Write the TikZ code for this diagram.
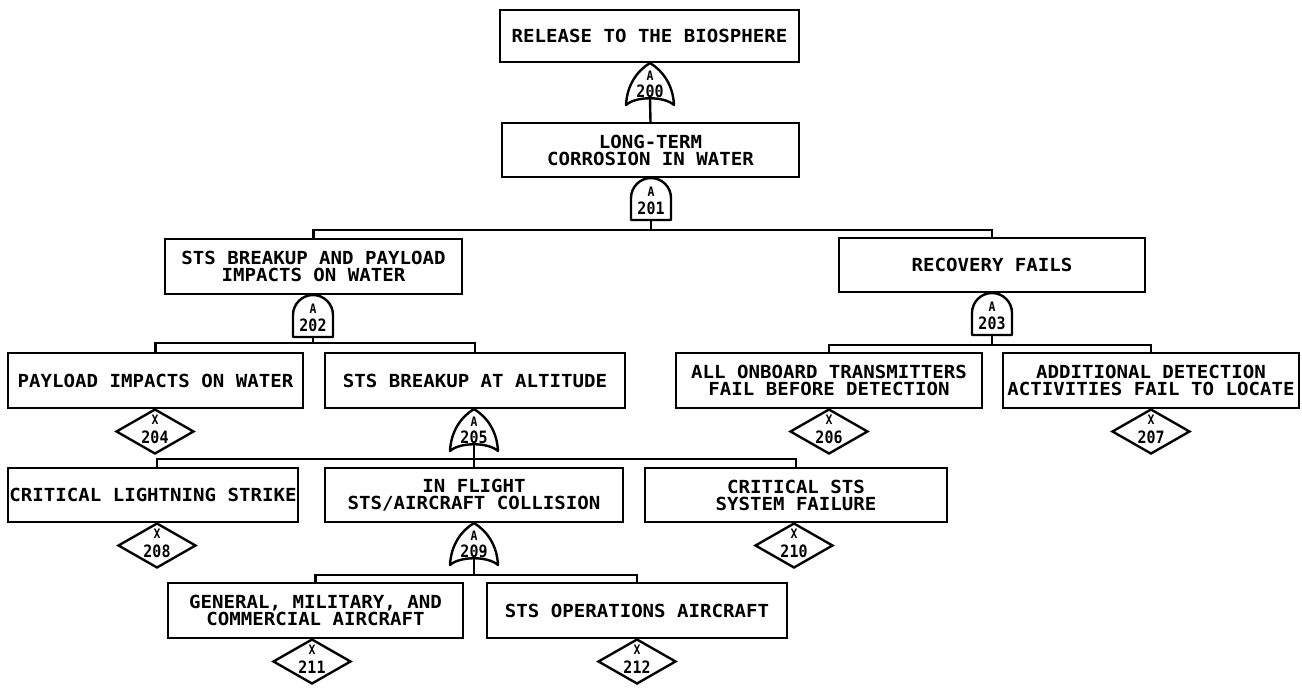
\documentclass[tikz,border=0pt]{standalone}
\usepackage{fontspec}
\setmonofont{DejaVu Sans Mono}[FakeStretch=1.06]
\newfontfamily\gatefont{DejaVu Sans Mono}[FakeStretch=0.88]
\usetikzlibrary{shapes.geometric,calc}
\tikzset{
  box/.style={draw, line width=2.4pt, inner sep=0pt, align=center,
    font=\ttfamily\bfseries\fontsize{18}{17}\selectfont},
  gatebox/.style={shape=rectangle, inner sep=0pt, outer sep=0pt},
  gateline/.style={draw, line width=2.4pt, line join=round},
  conn/.style={draw, line width=2.4pt},
  gatetxt/.style={inner sep=0pt, font=\gatefont\bfseries\fontsize{13}{13}\selectfont},
  numtxt/.style={inner sep=0pt, font=\gatefont\bfseries\fontsize{17}{17}\selectfont},
  xdiamond/.style={diamond, draw, line width=2.4pt, inner sep=0pt, minimum width=78, minimum height=45}
}
\newcommand\orgate[4]{%
  \node[gatebox, minimum width=48, minimum height=42] (#1) at (#2,#3+21) {};
  \draw[gateline] (#1.north) .. controls +(13,8) and +(-1,-20) .. (#1.south east)
     .. controls +(-10,-9) and +(10,-9) .. (#1.south west)
     .. controls +(1,-20) and +(-13,8) .. (#1.north) -- cycle;
  \node[gatetxt] (#1-a) at (#2,#3+13) {A};
  \node[numtxt] (#1-n) at (#2,#3+28) {#4};
  \coordinate (#1-stem) at ($(#1.south)+(0,-6)$);
}
\newcommand\andgate[4]{%
  \node[gatebox, minimum width=40, minimum height=42] (#1) at (#2,#3+21) {};
  \draw[gateline] (#1.south west) -- ++(0,-22) .. controls +(0,-11) and +(-11,0) .. (#1.north)
     .. controls +(11,0) and +(0,-11) .. ($(#1.south east)+(0,-22)$) -- (#1.south east) -- cycle;
  \node[gatetxt] (#1-a) at (#2,#3+14) {A};
  \node[numtxt] (#1-n) at (#2,#3+30) {#4};
  \coordinate (#1-stem) at (#1.south);
}
\newcommand\xdia[4]{%
  \node[xdiamond] (#1) at (#2,#3+22.5) {};
  \node[gatetxt] (#1-x) at (#2,#3+11) {X};
  \node[numtxt] (#1-n) at (#2,#3+28) {#4};
}
\begin{document}
\begin{tikzpicture}[x=1pt, y=-1pt]
\fill[white] (0,0) rectangle (1302,690);
\useasboundingbox (0,0) rectangle (1302,690);

% boxes
\node[box, minimum width=299, minimum height=52] (b1) at (649.5,36) {RELEASE TO THE BIOSPHERE};
\node[box, minimum width=297, minimum height=54] (b2) at (650.5,150) {LONG-TERM\\CORROSION IN WATER};
\node[box, minimum width=297, minimum height=55] (b3) at (313.5,266.5) {STS BREAKUP AND PAYLOAD\\IMPACTS ON WATER};
\node[box, minimum width=306, minimum height=54] (b4) at (992,265) {RECOVERY FAILS};
\node[box, minimum width=295, minimum height=55] (b5) at (155.5,380.5) {PAYLOAD IMPACTS ON WATER};
\node[box, minimum width=300, minimum height=55] (b6) at (475,380.5) {STS BREAKUP AT ALTITUDE};
\node[box, minimum width=306, minimum height=55] (b7) at (829,380.5) {ALL ONBOARD TRANSMITTERS\\FAIL BEFORE DETECTION};
\node[box, minimum width=296, minimum height=55] (b8) at (1151,380.5) {ADDITIONAL DETECTION\\ACTIVITIES FAIL TO LOCATE};
\node[box, minimum width=290, minimum height=54] (b9) at (153,495) {CRITICAL LIGHTNING STRIKE};
\node[box, minimum width=298, minimum height=54] (b10) at (474,495) {IN FLIGHT\\STS/AIRCRAFT COLLISION};
\node[box, minimum width=302, minimum height=54] (b11) at (796,495) {CRITICAL STS\\SYSTEM FAILURE};
\node[box, minimum width=295, minimum height=55] (b12) at (315.5,610.5) {GENERAL, MILITARY, AND\\COMMERCIAL AIRCRAFT};
\node[box, minimum width=300, minimum height=55] (b13) at (637,610.5) {STS OPERATIONS AIRCRAFT};

% gates
\orgate{g200}{650}{63}{200}
\andgate{g201}{651}{178}{201}
\andgate{g202}{313}{295}{202}
\andgate{g203}{992}{293}{203}
\orgate{g205}{474}{409}{205}
\orgate{g209}{474}{523}{209}

% undeveloped events
\xdia{d204}{155}{409}{204}
\xdia{d206}{829}{409}{206}
\xdia{d207}{1151}{409}{207}
\xdia{d208}{157}{523}{208}
\xdia{d210}{794}{523}{210}
\xdia{d211}{312}{639}{211}
\xdia{d212}{637}{639}{212}

% bar coordinates
\coordinate (bar201) at (651,230);
\coordinate (bar202) at (313,343);
\coordinate (bar203) at (992,345);
\coordinate (bar205) at (474,459);
\coordinate (bar209) at (474,575);

% connectors
\draw[conn] (b1.south) -- (g200.north);
\draw[conn] (g200-stem) -- (b2.north);
\draw[conn] (b2.south) -- (g201.north);
\draw[conn] (g201-stem) -- (bar201);
\draw[conn] (b3.north) |- (bar201) -| (b4.north);

\draw[conn] (b3.south) -- (g202.north);
\draw[conn] (g202-stem) -- (bar202);
\draw[conn] (b5.north) |- (bar202) -| (b6.north);

\draw[conn] (b4.south) -- (g203.north);
\draw[conn] (g203-stem) -- (bar203);
\draw[conn] (b7.north) |- (bar203) -| (b8.north);

\draw[conn] (b6.south) -- (g205.north);
\draw[conn] (g205-stem) -- (b10.north);
\draw[conn] ($(b9.north)+(4,0)$) |- (bar205) -| (b11.north);

\draw[conn] (b10.south) -- (g209.north);
\draw[conn] (g209-stem) -- (bar209);
\draw[conn] (b12.north) |- (bar209) -| (b13.north);

\draw[conn] (d204.north) -- (d204.north |- b5.south);
\draw[conn] (d206.north) -- (d206.north |- b7.south);
\draw[conn] (d207.north) -- (d207.north |- b8.south);
\draw[conn] (d208.north) -- (d208.north |- b9.south);
\draw[conn] (d210.north) -- (d210.north |- b11.south);
\draw[conn] (d211.north) -- (d211.north |- b12.south);
\draw[conn] (d212.north) -- (d212.north |- b13.south);
\end{tikzpicture}
\end{document}
